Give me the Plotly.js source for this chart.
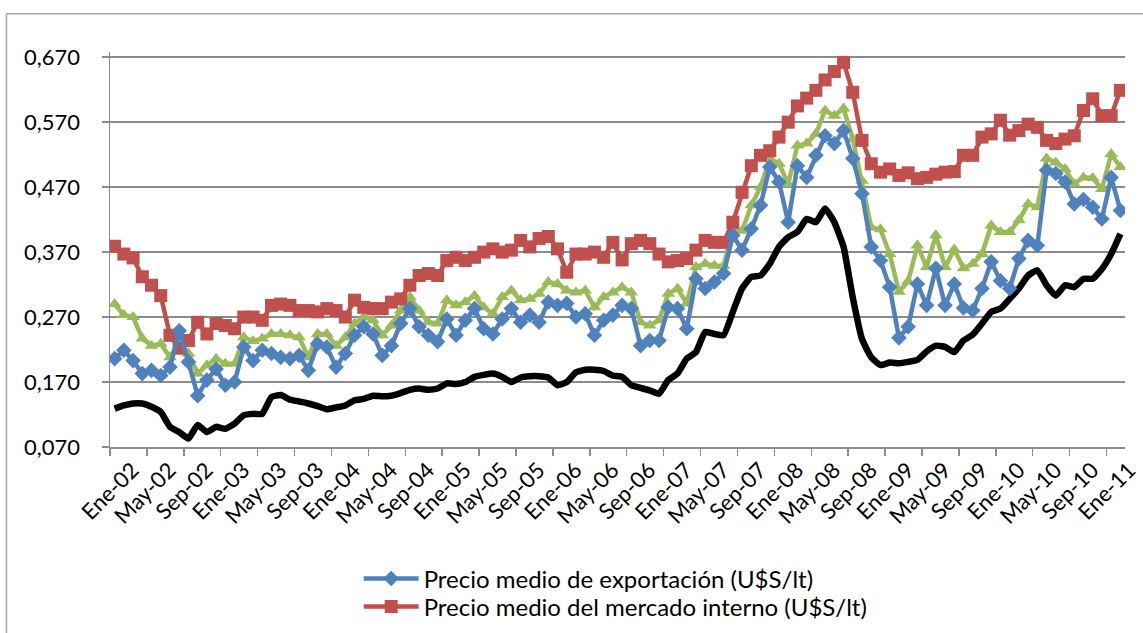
<!DOCTYPE html>
<html>
<head>
<meta charset="utf-8">
<script src="https://cdn.plot.ly/plotly-3.0.1.min.js"></script>
<style>
  html, body { margin: 0; padding: 0; background: #ffffff; }
  #chart { width: 1143px; height: 633px; }
</style>
</head>
<body>
<div id="chart"></div>
<script>
// Month names (Spanish abbreviations) and years covered: Ene-02 .. Feb-11
var monthNames = ['Ene','Feb','Mar','Abr','May','Jun','Jul','Ago','Sep','Oct','Nov','Dic'];
var startYear = 2002;
var nMonths = 110;

// Precio medio de exportación (U$S/lt)
var exportPrice = [
  0.206,0.219,0.203,0.183,0.188,0.180,0.193,0.249,0.201,0.149,0.173,0.190,
  0.165,0.170,0.224,0.203,0.219,0.214,0.208,0.206,0.211,0.188,0.229,0.224,
  0.193,0.214,0.242,0.255,0.244,0.211,0.226,0.260,0.283,0.255,0.242,0.232,
  0.267,0.242,0.265,0.283,0.252,0.244,0.267,0.283,0.262,0.273,0.262,0.293,
  0.288,0.291,0.270,0.275,0.242,0.265,0.273,0.288,0.283,0.226,0.234,0.234,
  0.285,0.283,0.252,0.329,0.314,0.324,0.337,0.396,0.373,0.406,0.442,0.501,
  0.478,0.416,0.503,0.485,0.519,0.549,0.537,0.557,0.514,0.460,0.378,0.357,
  0.316,0.238,0.255,0.321,0.288,0.345,0.288,0.321,0.284,0.280,0.314,0.355,
  0.326,0.314,0.360,0.388,0.380,0.496,0.491,0.478,0.444,0.451,0.439,0.421,
  0.485,0.434
];

// Precio medio del mercado interno (U$S/lt)
var internalPrice = [
  0.379,0.367,0.361,0.332,0.319,0.303,0.242,0.222,0.234,0.262,0.244,0.260,
  0.257,0.252,0.270,0.270,0.265,0.288,0.290,0.288,0.280,0.280,0.278,0.283,
  0.280,0.270,0.296,0.285,0.283,0.283,0.293,0.298,0.319,0.334,0.337,0.334,
  0.357,0.362,0.357,0.362,0.370,0.375,0.370,0.373,0.388,0.378,0.391,0.394,
  0.375,0.339,0.367,0.367,0.370,0.362,0.385,0.358,0.383,0.388,0.383,0.367,
  0.355,0.357,0.360,0.373,0.388,0.385,0.385,0.416,0.462,0.503,0.519,0.526,
  0.547,0.570,0.595,0.607,0.619,0.635,0.648,0.662,0.616,0.542,0.506,0.493,
  0.498,0.488,0.492,0.483,0.485,0.490,0.493,0.494,0.519,0.519,0.547,0.552,
  0.573,0.550,0.557,0.567,0.562,0.542,0.537,0.544,0.549,0.588,0.606,0.580,
  0.580,0.619
];

// Third series (green, triangles)
var greenSeries = [
  0.290,0.273,0.270,0.237,0.226,0.229,0.208,0.231,0.214,0.183,0.196,0.206,
  0.198,0.198,0.239,0.233,0.237,0.244,0.244,0.242,0.239,0.208,0.244,0.244,
  0.226,0.239,0.260,0.270,0.265,0.242,0.257,0.280,0.301,0.280,0.262,0.260,
  0.296,0.288,0.293,0.303,0.285,0.275,0.301,0.311,0.296,0.298,0.306,0.324,
  0.321,0.311,0.308,0.311,0.285,0.301,0.308,0.316,0.308,0.262,0.257,0.265,
  0.306,0.314,0.291,0.347,0.352,0.349,0.349,0.406,0.403,0.442,0.470,0.514,
  0.506,0.475,0.534,0.537,0.552,0.588,0.580,0.591,0.544,0.480,0.408,0.405,
  0.367,0.309,0.325,0.380,0.347,0.396,0.347,0.374,0.345,0.352,0.367,0.411,
  0.401,0.401,0.419,0.444,0.439,0.514,0.508,0.498,0.475,0.485,0.484,0.467,
  0.521,0.501
];

// Fourth series (black line)
var blackSeries = [
  0.129,0.134,0.137,0.137,0.132,0.124,0.101,0.093,0.083,0.104,0.093,0.101,
  0.098,0.106,0.119,0.121,0.121,0.147,0.150,0.143,0.140,0.137,0.133,0.128,
  0.131,0.134,0.142,0.144,0.149,0.148,0.149,0.153,0.158,0.160,0.158,0.160,
  0.168,0.167,0.170,0.178,0.181,0.183,0.178,0.170,0.177,0.179,0.179,0.177,
  0.165,0.170,0.185,0.189,0.189,0.187,0.180,0.178,0.165,0.161,0.157,0.152,
  0.173,0.183,0.206,0.216,0.247,0.244,0.242,0.278,0.314,0.332,0.334,0.352,
  0.378,0.393,0.401,0.421,0.416,0.437,0.416,0.378,0.300,0.236,0.208,0.196,
  0.200,0.199,0.201,0.204,0.217,0.226,0.224,0.216,0.234,0.243,0.260,0.278,
  0.283,0.298,0.314,0.334,0.342,0.319,0.303,0.319,0.316,0.329,0.329,0.344,
  0.367,0.398
];

var seriesNames = [
  'Precio medio de exportación (U$S/lt)',
  'Precio medio del mercado interno (U$S/lt)'
];

// category labels
var categories = [];
for (var k = 0; k < nMonths; k++) {
  var yy = startYear + Math.floor(k / 12);
  var mm = monthNames[k % 12];
  categories.push(mm + '-' + String(yy).slice(2));
}

var FONT = 'Lato, "Open Sans", Arial, sans-serif';
var GRID = '#8c8c8c';

var traces = [
  {
    x: categories, y: blackSeries, type: 'scatter', mode: 'lines',
    line: {color: '#000000', width: 6.5, shape: 'spline', smoothing: 0.4},
    showlegend: false, hoverinfo: 'skip'
  },
  {
    x: categories, y: greenSeries, type: 'scatter', mode: 'lines+markers',
    line: {color: '#9BBB59', width: 4.5},
    marker: {symbol: 'triangle-up', size: 12, color: '#9BBB59'},
    showlegend: false
  },
  {
    x: categories, y: internalPrice, type: 'scatter', mode: 'lines+markers',
    name: seriesNames[1], legend: 'legend2',
    line: {color: '#C0504D', width: 4.5},
    marker: {symbol: 'square', size: 13, color: '#C0504D'}
  },
  {
    x: categories, y: exportPrice, type: 'scatter', mode: 'lines+markers',
    name: seriesNames[0], legend: 'legend',
    line: {color: '#4F81BD', width: 4.5},
    marker: {symbol: 'diamond', size: 12, color: '#4F81BD'}
  }
];

var legendBase = {
  xanchor: 'left', yanchor: 'middle', itemwidth: 55,
  font: {family: FONT, size: 24, color: '#000000'},
  bgcolor: 'rgba(0,0,0,0)', borderwidth: 0
};

var layout = {
  width: 1143, height: 633,
  margin: {l: 110, r: 18, t: 52, b: 186, autoexpand: false},
  paper_bgcolor: '#ffffff', plot_bgcolor: '#ffffff',
  separators: ',.',
  font: {family: FONT, size: 22, color: '#000000'},
  showlegend: true,
  legend: Object.assign({}, legendBase, {x: 0.245, y: -0.334}),
  legend2: Object.assign({}, legendBase, {x: 0.245, y: -0.405}),
  xaxis: {
    type: 'category',
    range: [-0.5, nMonths - 0.5],
    tickmode: 'linear', tick0: 0, dtick: 4,
    tickson: 'boundaries',
    tickangle: -45,
    ticklabelshift: 18,
    ticks: 'outside', ticklen: 7, tickcolor: GRID, tickwidth: 1.5,
    showgrid: false, zeroline: false,
    showline: true, linecolor: GRID, linewidth: 1.5,
    tickfont: {family: FONT, size: 22, color: '#000000'},
    automargin: false,
    fixedrange: true
  },
  yaxis: {
    range: [0.07, 0.678],
    tickmode: 'linear', tick0: 0.07, dtick: 0.1,
    tickformat: '.3f',
    ticks: 'outside', ticklen: 7, tickcolor: GRID, tickwidth: 1.5,
    ticklabelstandoff: 17,
    showgrid: true, gridcolor: GRID, gridwidth: 1.5,
    zeroline: false,
    showline: true, linecolor: GRID, linewidth: 1.5,
    tickfont: {family: FONT, size: 22, color: '#000000'},
    automargin: false,
    fixedrange: true
  },
  shapes: [
    {type: 'line', xref: 'paper', yref: 'paper', x0: -0.102, x1: -0.102, y0: 1.097, y1: -0.5,
     line: {color: '#a6a6a6', width: 1.5}},
    {type: 'line', xref: 'paper', yref: 'paper', x0: -0.102, x1: 1.05, y0: 1.097, y1: 1.097,
     line: {color: '#a6a6a6', width: 1.5}}
  ]
};

Plotly.newPlot('chart', traces, layout, {displayModeBar: false, staticPlot: true});
</script>
</body>
</html>
